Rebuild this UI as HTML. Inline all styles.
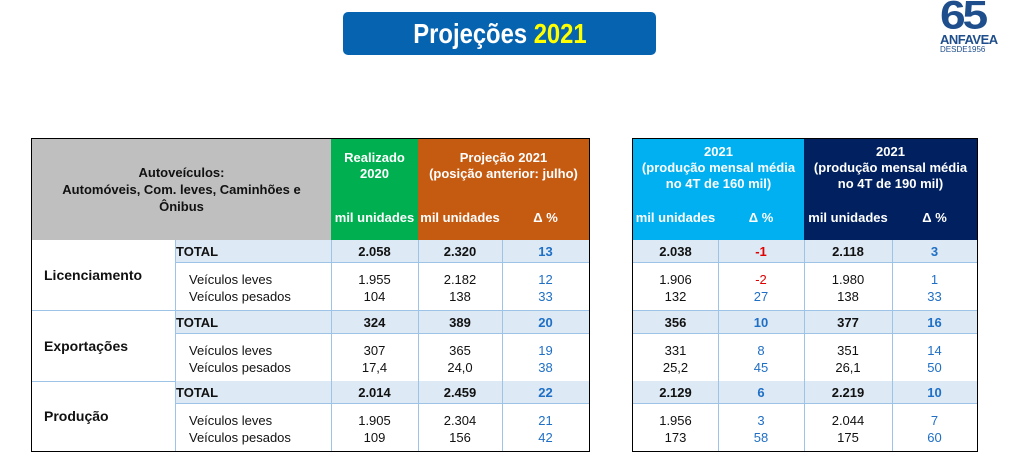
<!DOCTYPE html>
<html><head><meta charset="utf-8"><style>
*{margin:0;padding:0;box-sizing:border-box}
body{width:1011px;height:474px;background:#fff;position:relative;overflow:hidden;font-family:"Liberation Sans",sans-serif;color:#111}
.a{position:absolute}
.c{position:absolute;display:flex;align-items:center;justify-content:center;text-align:center}
.hd{color:#fff;font-weight:bold;font-size:13px;line-height:16px}
.v{font-size:13px}
.b{font-weight:bold}
.bl{color:#1f6fc5}
.rd{color:#e00000}
</style></head><body>
<div class="c" style="left:343px;top:12px;width:313px;height:43px;background:#0563b0;border-radius:5px;color:#fff;font-weight:bold;font-size:28px;"><span style="display:inline-block;transform:scaleX(0.85)">Projeções&nbsp;<span style="color:#ffff00">2021</span></span></div>
<div class="a" style="left:940px;top:-4px;font-size:44px;font-weight:bold;color:#1f4e8c;letter-spacing:-3px;line-height:44px;transform:scaleY(0.9) scaleX(1.05);transform-origin:left top">65</div>
<div class="a" style="left:940px;top:33px;font-size:13px;font-weight:bold;color:#1f4e8c;line-height:13px;letter-spacing:-0.5px">ANFAVEA</div>
<div class="a" style="left:940px;top:46px;font-size:8px;color:#1f4e8c;line-height:8px">DESDE1956</div>

<div class="a" style="left:31px;top:138px;width:559px;height:314px;border:1.5px solid #000"></div>
<div class="c" style="left:32px;top:139px;width:299px;height:101px;background:#bfbfbf;font-weight:bold;font-size:13px;line-height:17px">Autoveículos:<br>Automóveis, Com. leves, Caminhões e<br>Ônibus</div>
<div class="a hd" style="left:331px;top:139px;width:87px;height:101px;background:#00b050"></div>
<div class="c hd" style="left:331px;top:148px;width:87px;height:36px">Realizado<br>2020</div>
<div class="c hd" style="left:331px;top:208px;width:87px;height:20px">mil unidades</div>
<div class="a" style="left:418px;top:139px;width:171px;height:101px;background:#c55a11"></div>
<div class="c hd" style="left:418px;top:148px;width:171px;height:36px">Projeção 2021<br>(posição anterior: julho)</div>
<div class="c hd" style="left:418px;top:208px;width:84px;height:20px">mil unidades</div>
<div class="c hd" style="left:502px;top:208px;width:87px;height:20px">Δ %</div>

<div class="a" style="left:632px;top:138px;width:346px;height:314px;border:1.5px solid #000"></div>
<div class="a" style="left:633px;top:139px;width:171px;height:101px;background:#00b0f0"></div>
<div class="a" style="left:804px;top:139px;width:173px;height:101px;background:#002060"></div>
<div class="c hd" style="left:633px;top:143px;width:171px;height:50px">2021<br>(produção mensal média<br>no 4T de 160 mil)</div>
<div class="c hd" style="left:804px;top:143px;width:173px;height:50px">2021<br>(produção mensal média<br>no 4T de 190 mil)</div>
<div class="c hd" style="left:633px;top:208px;width:85px;height:20px">mil unidades</div>
<div class="c hd" style="left:718px;top:208px;width:86px;height:20px">Δ %</div>
<div class="c hd" style="left:804px;top:208px;width:88px;height:20px">mil unidades</div>
<div class="c hd" style="left:892px;top:208px;width:85px;height:20px">Δ %</div>

<div id="rows"></div>
<script>
var groups=[
["Licenciamento",["2.058","2.320","13","2.038","-1","2.118","3"],[["1.955","104"],["2.182","138"],["12","33"],["1.906","132"],["-2","27"],["1.980","138"],["1","33"]]],
["Exportações",["324","389","20","356","10","377","16"],[["307","17,4"],["365","24,0"],["19","38"],["331","25,2"],["8","45"],["351","26,1"],["14","50"]]],
["Produção",["2.014","2.459","22","2.129","6","2.219","10"],[["1.905","109"],["2.304","156"],["21","42"],["1.956","173"],["3","58"],["2.044","175"],["7","60"]]]
];
var cols=[[331,418],[418,502],[502,589],[633,718],[718,804],[804,892],[892,977]];
var h='';var bc='#9dc3e6';
groups.forEach(function(g,i){
 var y=240+i*70.5;
 h+='<div class="a" style="left:175px;top:'+y+'px;width:414px;height:23px;background:#ddeaf6;border-bottom:1px solid '+bc+'"></div>';
 h+='<div class="a" style="left:633px;top:'+y+'px;width:344px;height:23px;background:#ddeaf6;border-bottom:1px solid '+bc+'"></div>';
 if(i<2){h+='<div class="a" style="left:32px;top:'+(y+70)+'px;width:557px;height:1px;background:'+bc+'"></div>';
 h+='<div class="a" style="left:633px;top:'+(y+70)+'px;width:344px;height:1px;background:'+bc+'"></div>';}
 h+='<div class="a b" style="left:44px;top:'+(y+27)+'px;font-size:14px">'+g[0]+'</div>';
 h+='<div class="a b" style="left:176px;top:'+(y+4)+'px;font-size:13px">TOTAL</div>';
 h+='<div class="a v" style="left:189px;top:'+(y+31)+'px;line-height:17px">Veículos leves<br>Veículos pesados</div>';
 cols.forEach(function(c,j){
  var cls=(j==2||j==4||j==6)?'bl':'';
  var t=g[1][j];var tc=t.charAt(0)=='-'?'rd':cls;
  h+='<div class="c b v '+tc+'" style="left:'+c[0]+'px;top:'+y+'px;width:'+(c[1]-c[0])+'px;height:23px">'+t+'</div>';
  var s=g[2][j];
  var c1=s[0].charAt(0)=='-'?'rd':cls;
  h+='<div class="a v" style="left:'+c[0]+'px;top:'+(y+31)+'px;width:'+(c[1]-c[0])+'px;text-align:center;line-height:17px"><span class="'+c1+'">'+s[0]+'</span><br><span class="'+cls+'">'+s[1]+'</span></div>';
 });
});
[175,331,418,502].forEach(function(x){h+='<div class="a" style="left:'+x+'px;top:240px;width:1px;height:211px;background:'+bc+'"></div>'});
[718,804,892].forEach(function(x){h+='<div class="a" style="left:'+x+'px;top:240px;width:1px;height:211px;background:'+bc+'"></div>'});
document.getElementById('rows').innerHTML=h;
</script>
</body></html>
